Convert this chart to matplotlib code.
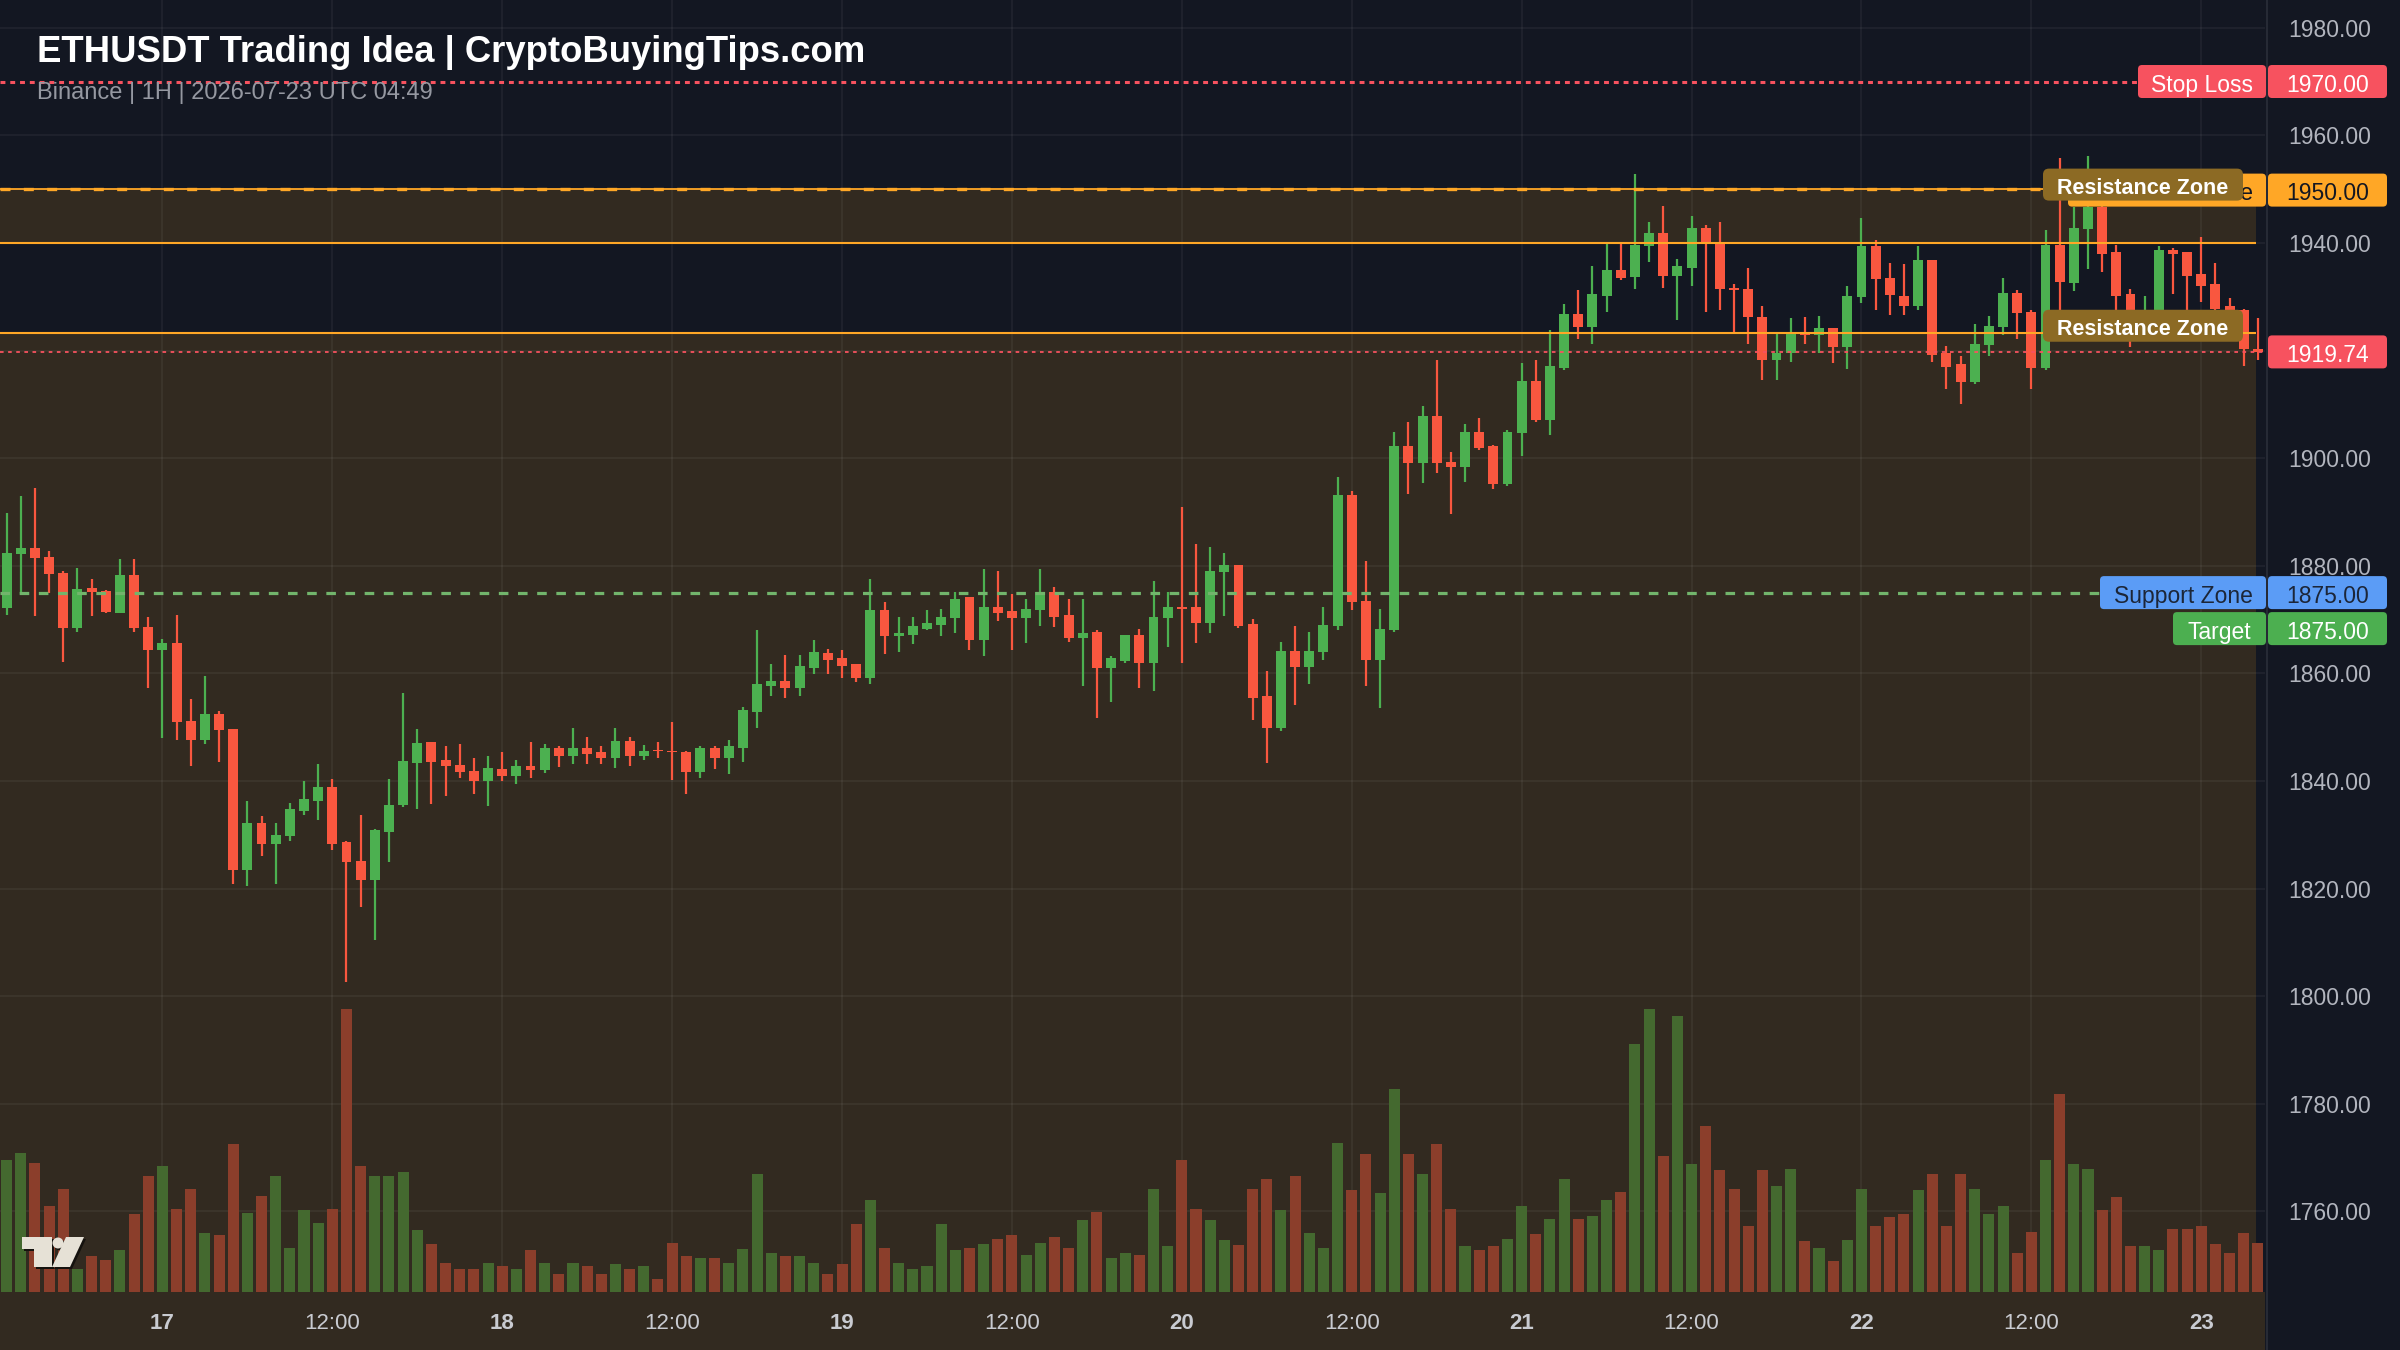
import matplotlib
matplotlib.use("Agg")
import matplotlib.pyplot as plt
import numpy as np
from matplotlib.patches import Rectangle, FancyBboxPatch, Polygon, Circle
from matplotlib.lines import Line2D
from matplotlib.transforms import IdentityTransform, blended_transform_factory

plt.rcParams['font.family'] = ['Liberation Sans', 'DejaVu Sans']

# ---------------- data ----------------
opens = [1872.1, 1882.2, 1883.2, 1881.7, 1878.7, 1868.4, 1875.8, 1875.3, 1871.3, 1878.3,
         1868.6, 1864.4, 1865.7, 1851.2, 1847.6, 1852.4, 1849.6, 1823.5, 1832.2, 1828.2,
         1829.7, 1834.4, 1836.3, 1838.9, 1828.6, 1825.1, 1821.5, 1830.5, 1835.5, 1843.4,
         1847.2, 1843.8, 1843.0, 1841.9, 1839.9, 1842.2, 1841.0, 1842.7, 1842.0, 1846.1,
         1844.7, 1846.1, 1845.3, 1844.3, 1847.5, 1844.7, 1845.6, 1845.6, 1845.3, 1841.7,
         1846.2, 1844.3, 1846.1, 1852.8, 1857.6, 1858.6, 1857.2, 1860.9, 1863.8, 1862.8,
         1861.7, 1859.1, 1871.7, 1866.9, 1867.2, 1868.3, 1869.0, 1870.2, 1874.2, 1866.2,
         1872.3, 1871.5, 1870.2, 1871.7, 1875.1, 1870.9, 1866.6, 1867.7, 1860.9, 1862.2,
         1867.2, 1862.0, 1870.2, 1872.3, 1872.3, 1869.4, 1878.9, 1880.1, 1869.1, 1855.7,
         1849.9, 1864.1, 1861.1, 1864.0, 1868.7, 1893.1, 1873.4, 1862.5, 1868.0, 1902.2,
         1899.0, 1907.8, 1899.2, 1898.3, 1904.8, 1902.2, 1895.2, 1904.6, 1914.4, 1907.1,
         1916.7, 1926.7, 1924.3, 1930.1, 1934.95, 1933.6, 1939.4, 1941.9, 1933.8, 1935.4,
         1942.7, 1939.9, 1931.5, 1931.5, 1926.3, 1918.3, 1919.5, 1923.3, 1922.9, 1924.1,
         1920.6, 1929.9, 1939.4, 1933.5, 1930.1, 1928.3, 1936.8, 1919.5, 1917.5, 1914.2,
         1921.0, 1924.4, 1930.7, 1927.2, 1916.7, 1939.6, 1932.6, 1942.5, 1946.7, 1938.4,
         1930.5, 1925.5, 1926.8, 1938.7, 1938.3, 1934.2, 1932.3, 1928.3, 1927.5, 1920.3]
highs = [1889.8, 1893.0, 1894.4, 1882.7, 1879.1, 1879.5, 1877.6, 1875.5, 1881.3, 1881.3,
         1870.5, 1866.3, 1870.9, 1855.3, 1859.5, 1853.0, 1849.6, 1836.3, 1833.4, 1832.2,
         1835.9, 1840.0, 1843.1, 1840.3, 1828.9, 1833.6, 1831.1, 1840.4, 1856.3, 1849.6,
         1847.2, 1846.4, 1846.8, 1844.2, 1844.6, 1845.3, 1843.9, 1847.2, 1846.8, 1846.4,
         1849.8, 1848.2, 1846.4, 1849.8, 1848.2, 1846.7, 1847.2, 1850.9, 1845.5, 1846.4,
         1846.4, 1847.6, 1853.8, 1868.0, 1861.7, 1863.4, 1863.4, 1866.2, 1864.6, 1864.3,
         1861.7, 1877.5, 1873.2, 1870.5, 1870.5, 1871.7, 1872.0, 1875.2, 1874.2, 1879.4,
         1879.0, 1874.8, 1873.8, 1879.4, 1876.0, 1873.8, 1873.8, 1868.0, 1863.3, 1867.2,
         1868.3, 1877.2, 1875.2, 1891.0, 1884.0, 1883.4, 1882.4, 1880.1, 1870.1, 1860.5,
         1865.8, 1868.7, 1867.6, 1872.4, 1896.5, 1893.9, 1880.9, 1872.0, 1904.9, 1906.8,
         1909.7, 1918.2, 1901.2, 1906.3, 1907.4, 1902.4, 1905.2, 1917.7, 1918.2, 1923.8,
         1928.6, 1931.2, 1935.7, 1939.8, 1939.9, 1952.8, 1943.9, 1946.9, 1937.1, 1945.0,
         1943.4, 1943.9, 1932.3, 1935.3, 1928.3, 1923.1, 1926.0, 1926.3, 1926.4, 1924.1,
         1932.0, 1944.6, 1940.5, 1936.3, 1936.1, 1939.4, 1936.8, 1920.8, 1919.0, 1924.9,
         1926.4, 1933.4, 1931.2, 1927.5, 1942.4, 1955.7, 1946.7, 1956.1, 1948.0, 1939.6,
         1931.5, 1930.1, 1939.4, 1939.0, 1938.3, 1941.1, 1936.3, 1929.7, 1927.8, 1926.0]
lows = [1870.8, 1874.7, 1870.6, 1874.9, 1862.1, 1867.6, 1870.6, 1871.3, 1871.2, 1867.6,
        1857.2, 1847.9, 1847.6, 1842.7, 1846.9, 1843.5, 1820.9, 1820.4, 1826.0, 1820.9,
        1828.9, 1833.7, 1832.7, 1827.2, 1802.6, 1816.6, 1810.4, 1824.9, 1835.2, 1834.8,
        1835.7, 1837.2, 1840.6, 1837.6, 1835.3, 1839.9, 1839.4, 1840.5, 1841.4, 1842.5,
        1843.1, 1843.2, 1843.2, 1842.4, 1842.8, 1843.9, 1844.3, 1840.2, 1837.6, 1840.5,
        1842.2, 1841.2, 1843.6, 1849.8, 1855.8, 1855.5, 1855.8, 1859.8, 1859.8, 1859.1,
        1858.3, 1858.0, 1863.5, 1863.9, 1865.4, 1868.0, 1866.9, 1867.5, 1864.3, 1863.3,
        1869.8, 1864.3, 1865.7, 1868.8, 1868.6, 1865.8, 1857.7, 1851.7, 1854.6, 1862.0,
        1857.2, 1856.8, 1864.9, 1862.0, 1865.7, 1867.5, 1870.7, 1868.4, 1851.3, 1843.3,
        1849.2, 1854.2, 1858.0, 1862.5, 1868.0, 1871.8, 1857.6, 1853.6, 1867.6, 1893.4,
        1895.3, 1897.2, 1889.7, 1895.6, 1901.5, 1894.2, 1894.8, 1900.4, 1906.8, 1904.3,
        1916.4, 1922.1, 1921.2, 1927.2, 1933.1, 1931.4, 1936.5, 1931.7, 1925.6, 1932.0,
        1927.2, 1927.5, 1923.2, 1921.3, 1914.6, 1914.6, 1917.9, 1921.3, 1919.6, 1917.6,
        1916.5, 1928.8, 1927.6, 1926.6, 1926.6, 1927.6, 1917.9, 1912.9, 1910.0, 1913.8,
        1919.0, 1922.9, 1922.1, 1912.8, 1916.3, 1927.2, 1931.0, 1935.1, 1934.6, 1927.5,
        1920.7, 1924.5, 1925.5, 1930.5, 1926.8, 1929.0, 1925.0, 1922.5, 1917.1, 1918.3]
closes = [1882.4, 1883.2, 1881.5, 1878.4, 1868.4, 1875.7, 1875.1, 1871.4, 1878.3, 1868.4,
          1864.4, 1865.7, 1851.0, 1847.6, 1852.4, 1849.4, 1823.5, 1832.2, 1828.2, 1829.9,
          1834.8, 1836.7, 1838.9, 1828.2, 1824.9, 1821.5, 1830.9, 1835.5, 1843.7, 1847.0,
          1843.6, 1842.8, 1841.7, 1839.9, 1842.4, 1841.0, 1842.7, 1842.0, 1846.1, 1844.7,
          1846.1, 1845.0, 1844.3, 1847.5, 1844.7, 1845.6, 1845.5, 1845.3, 1841.7, 1846.1,
          1844.3, 1846.4, 1853.1, 1858.0, 1858.6, 1857.2, 1861.4, 1863.9, 1862.5, 1861.4,
          1859.1, 1871.7, 1866.9, 1867.5, 1868.7, 1869.4, 1870.5, 1873.8, 1866.2, 1872.3,
          1871.3, 1870.3, 1872.0, 1875.1, 1870.5, 1866.5, 1867.5, 1860.9, 1862.9, 1867.2,
          1862.0, 1870.5, 1872.3, 1872.0, 1869.4, 1879.0, 1880.1, 1868.7, 1855.5, 1849.9,
          1864.1, 1861.1, 1864.1, 1869.0, 1893.1, 1873.3, 1862.5, 1868.2, 1902.2, 1899.0,
          1907.8, 1899.0, 1898.3, 1904.8, 1901.8, 1895.2, 1904.9, 1914.4, 1907.1, 1917.1,
          1926.7, 1924.3, 1930.5, 1935.0, 1933.4, 1939.6, 1941.9, 1933.8, 1935.7, 1942.7,
          1940.0, 1931.4, 1931.3, 1926.2, 1918.3, 1919.5, 1923.3, 1922.9, 1924.1, 1920.6,
          1930.1, 1939.4, 1933.2, 1930.3, 1928.3, 1936.8, 1919.1, 1916.9, 1914.2, 1921.2,
          1924.5, 1930.7, 1926.9, 1916.7, 1939.6, 1932.8, 1942.7, 1946.7, 1938.0, 1930.1,
          1926.9, 1927.0, 1938.7, 1938.0, 1933.8, 1932.0, 1927.8, 1924.5, 1920.2, 1919.74]
volumes = [397, 418, 388, 257, 310, 70, 107, 95, 125, 235,
           347, 377, 250, 310, 178, 172, 443, 238, 287, 347,
           132, 245, 208, 250, 850, 377, 347, 347, 360, 185,
           143, 88, 70, 70, 88, 77, 70, 125, 88, 53,
           88, 77, 53, 83, 70, 77, 40, 148, 107, 101,
           101, 88, 130, 353, 118, 107, 107, 88, 53, 83,
           205, 275, 132, 88, 70, 77, 203, 125, 132, 143,
           160, 172, 112, 148, 165, 132, 215, 240, 101, 118,
           112, 310, 137, 395, 250, 215, 155, 142, 310, 340,
           245, 347, 178, 132, 448, 305, 413, 298, 610, 413,
           353, 443, 250, 137, 125, 137, 160, 257, 173, 220,
           340, 220, 228, 275, 300, 743, 850, 407, 827, 383,
           497, 365, 310, 197, 365, 317, 370, 153, 132, 93,
           155, 310, 197, 225, 233, 305, 353, 197, 353, 310,
           233, 257, 117, 180, 395, 593, 383, 370, 245, 285,
           137, 137, 125, 190, 190, 197, 143, 118, 178, 148]

tick_idx = [11, 23, 35, 47, 59, 71, 83, 95, 107, 119, 131, 143, 155]
tick_labels = ["17", "12:00", "18", "12:00", "19", "12:00", "20", "12:00",
               "21", "12:00", "22", "12:00", "23"]
grid_prices = [1760, 1780, 1800, 1820, 1840, 1860, 1880, 1900, 1920, 1940, 1960, 1980]
price_labels = [1760, 1780, 1800, 1820, 1840, 1860, 1880, 1900, 1940, 1960, 1980]

stop_loss = 1970.0
res_top = 1950.0
res_mid = 1940.0
res_low = 1923.3
support = 1875.0
target = 1875.0
last_price = 1919.74

title = "ETHUSDT Trading Idea | CryptoBuyingTips.com"
subtitle = "Binance | 1H | 2026-07-23 UTC 04:49"

# ---------------- style ----------------
NAVY = "#131722"
BROWN = "#322a20"
GREEN = "#4cb050"
RED = "#f9573f"
VGREEN = "#44692f"
VRED = "#8b3e2b"
ORANGE = "#ffa726"
GRID = (1, 1, 1, 0.055)
W, H = 2400, 1350
AX_R, AX_B = 2265, 1292      # px
ZONE_END = 158.85

fig = plt.figure(figsize=(24, 13.5), dpi=100, facecolor=NAVY)
rect = [0, (H - AX_B) / H, AX_R / W, AX_B / H]
ax_vol = fig.add_axes(rect, zorder=0)
ax = fig.add_axes(rect, zorder=1, sharex=ax_vol)
ax.set_facecolor("none")
ax_vol.set_facecolor(NAVY)

n = len(opens)
x = np.arange(n)
o = np.array(opens); h = np.array(highs); l = np.array(lows); c = np.array(closes)
up = c >= o

ax.set_xlim(-0.47, 159.5)
ax.set_ylim(1745.0, 1985.15)
ax_vol.set_ylim(0, AX_B * 3)

# backgrounds
ax_vol.add_patch(Rectangle((-0.47, 1745.0), ZONE_END + 0.47, res_top - 1745.0,
                           transform=ax.transData, fc=BROWN, ec="none", zorder=0))
ax_vol.add_patch(Rectangle((-0.47, res_low), ZONE_END + 0.47, res_mid - res_low,
                           transform=ax.transData, fc=NAVY, ec="none", zorder=0.1))
fig.add_artist(Rectangle((0, 0), AX_R, H - AX_B, transform=IdentityTransform(),
                         fc=BROWN, ec="none", zorder=-1))

# grid
bt = blended_transform_factory(ax_vol.transAxes, ax.transData)
for p in grid_prices:
    ax_vol.add_line(Line2D([0, 1], [p, p], transform=bt, color=GRID, lw=1.2, zorder=0.5))
for t in tick_idx:
    ax_vol.axvline(t, color=GRID, lw=1.2, zorder=0.5)

# volume
ax_vol.bar(x, volumes, width=0.78, color=np.where(up, VGREEN, VRED), zorder=1)

# candles
cols = np.where(up, GREEN, RED)
ax.vlines(x, l, h, colors=cols, lw=1.6, zorder=3)
ax.bar(x, np.maximum(np.abs(c - o), 0.25), bottom=np.minimum(o, c), width=0.7,
       color=cols, zorder=3)

# levels
ax.axhline(stop_loss, color="#f7525f", lw=2.2, ls=(0, (1.6, 1.6)), zorder=4)
ax.axhline(res_top, color=ORANGE, lw=1.3, zorder=4)
ax.axhline(res_top, color=ORANGE, lw=2.4, ls=(0, (3, 4)), zorder=4)
ax.hlines([res_mid, res_low], -0.47, ZONE_END, color=ORANGE, lw=1.5, zorder=4)
ax.axhline(support, color="#72b56c", lw=2.3, ls=(0, (3, 3)), zorder=4)
ax.axhline(last_price, color="#f7525f", lw=1.3, ls=(0, (2, 2.5)), zorder=4)

# axes styling
for a in (ax, ax_vol):
    for s in a.spines.values():
        s.set_visible(False)
ax_vol.tick_params(left=False, labelleft=False, bottom=False, labelbottom=False)
ax.yaxis.tick_right()
ax.set_yticks(price_labels, [f"{p:.2f}" for p in price_labels])
ax.tick_params(axis="y", length=0, pad=16.5, labelsize=16.5, labelcolor="#b2b5be")
ax.set_xticks(tick_idx, tick_labels)
ax.tick_params(axis="x", length=0, pad=15, labelsize=16, labelcolor="#c9cbd1")
for lab in ax.get_xticklabels():
    if ":" not in lab.get_text():
        lab.set_fontweight("bold")

# separator
fig.add_artist(Line2D([AX_R + 2, AX_R + 2], [0, H], transform=IdentityTransform(),
                      color="#2a2e39", lw=1.2, zorder=5))


def ypix(price):
    return ax.transData.transform((0, price))[1]


def box(x0, x1, yc, fc, text, tc, fs=16.5, weight="normal", hgt=33, r=4, z=10):
    p = FancyBboxPatch((x0, yc - hgt / 2), x1 - x0, hgt,
                       boxstyle=f"round,pad=0,rounding_size={r}",
                       transform=IdentityTransform(), fc=fc, ec="none", zorder=z)
    fig.add_artist(p)
    fig.text((x0 + x1) / 2, yc - 1, text, transform=IdentityTransform(), ha="center",
             va="center_baseline", color=tc, fontsize=fs, fontweight=weight, zorder=z)


y_sl = ypix(stop_loss)
box(2138, 2266, y_sl, "#f7525f", "Stop Loss", "white")
box(2268, 2387, y_sl, "#f7525f", f"{stop_loss:.2f}", "white")

y_rt = ypix(res_top)
box(2068, 2266, y_rt - 1, ORANGE, "Resistance Zone", NAVY, z=10)
box(2268, 2387, y_rt - 1, ORANGE, f"{res_top:.2f}", NAVY)
box(2043, 2243, y_rt + 4.5, "#8c6a24", "Resistance Zone", "white", fs=15.5,
    weight="bold", hgt=32, r=6, z=11)
box(2043, 2243, ypix(res_low) + 7, "#8c6a24", "Resistance Zone", "white", fs=15.5,
    weight="bold", hgt=32, r=6, z=11)

box(2268, 2387, ypix(last_price), "#f7525f", f"{last_price:.2f}", "white")

y_sup = ypix(support)
box(2100, 2266, y_sup, "#5b9cf6", "Support Zone", "#1c2638")
box(2268, 2387, y_sup, "#5b9cf6", f"{support:.2f}", "#1c2638")
box(2173, 2266, y_sup - 36, "#4caf50", "Target", "white")
box(2268, 2387, y_sup - 36, "#4caf50", f"{target:.2f}", "white")

# title
fig.text(37, H - 62, title, transform=IdentityTransform(), ha="left", va="baseline",
         color="white", fontsize=26.3, fontweight="bold", zorder=12)
fig.text(37, H - 99, subtitle, transform=IdentityTransform(), ha="left", va="baseline",
         color="#9598a1", fontsize=17, zorder=12)

# TradingView-style logo
def topy(v):
    return H - v

shadow = "#15120e"
logo = "#e6e1d6"
for dx, dy, colr in ((2, -2, shadow), (0, 0, logo)):
    fig.add_artist(Polygon([(22 + dx, topy(1237) + dy), (52 + dx, topy(1237) + dy),
                            (52 + dx, topy(1267) + dy), (34 + dx, topy(1267) + dy),
                            (34 + dx, topy(1249) + dy), (22 + dx, topy(1249) + dy)],
                           closed=True, transform=IdentityTransform(), fc=colr,
                           ec="none", zorder=9))
    fig.add_artist(Circle((58 + dx, topy(1243) + dy), 5.5, transform=IdentityTransform(),
                          fc=colr, ec="none", zorder=9))
    fig.add_artist(Polygon([(66 + dx, topy(1237) + dy), (84 + dx, topy(1237) + dy),
                            (70 + dx, topy(1267) + dy), (52 + dx, topy(1267) + dy)],
                           closed=True, transform=IdentityTransform(), fc=colr,
                           ec="none", zorder=9))

fig.savefig("out.png", dpi=100, facecolor=NAVY)
